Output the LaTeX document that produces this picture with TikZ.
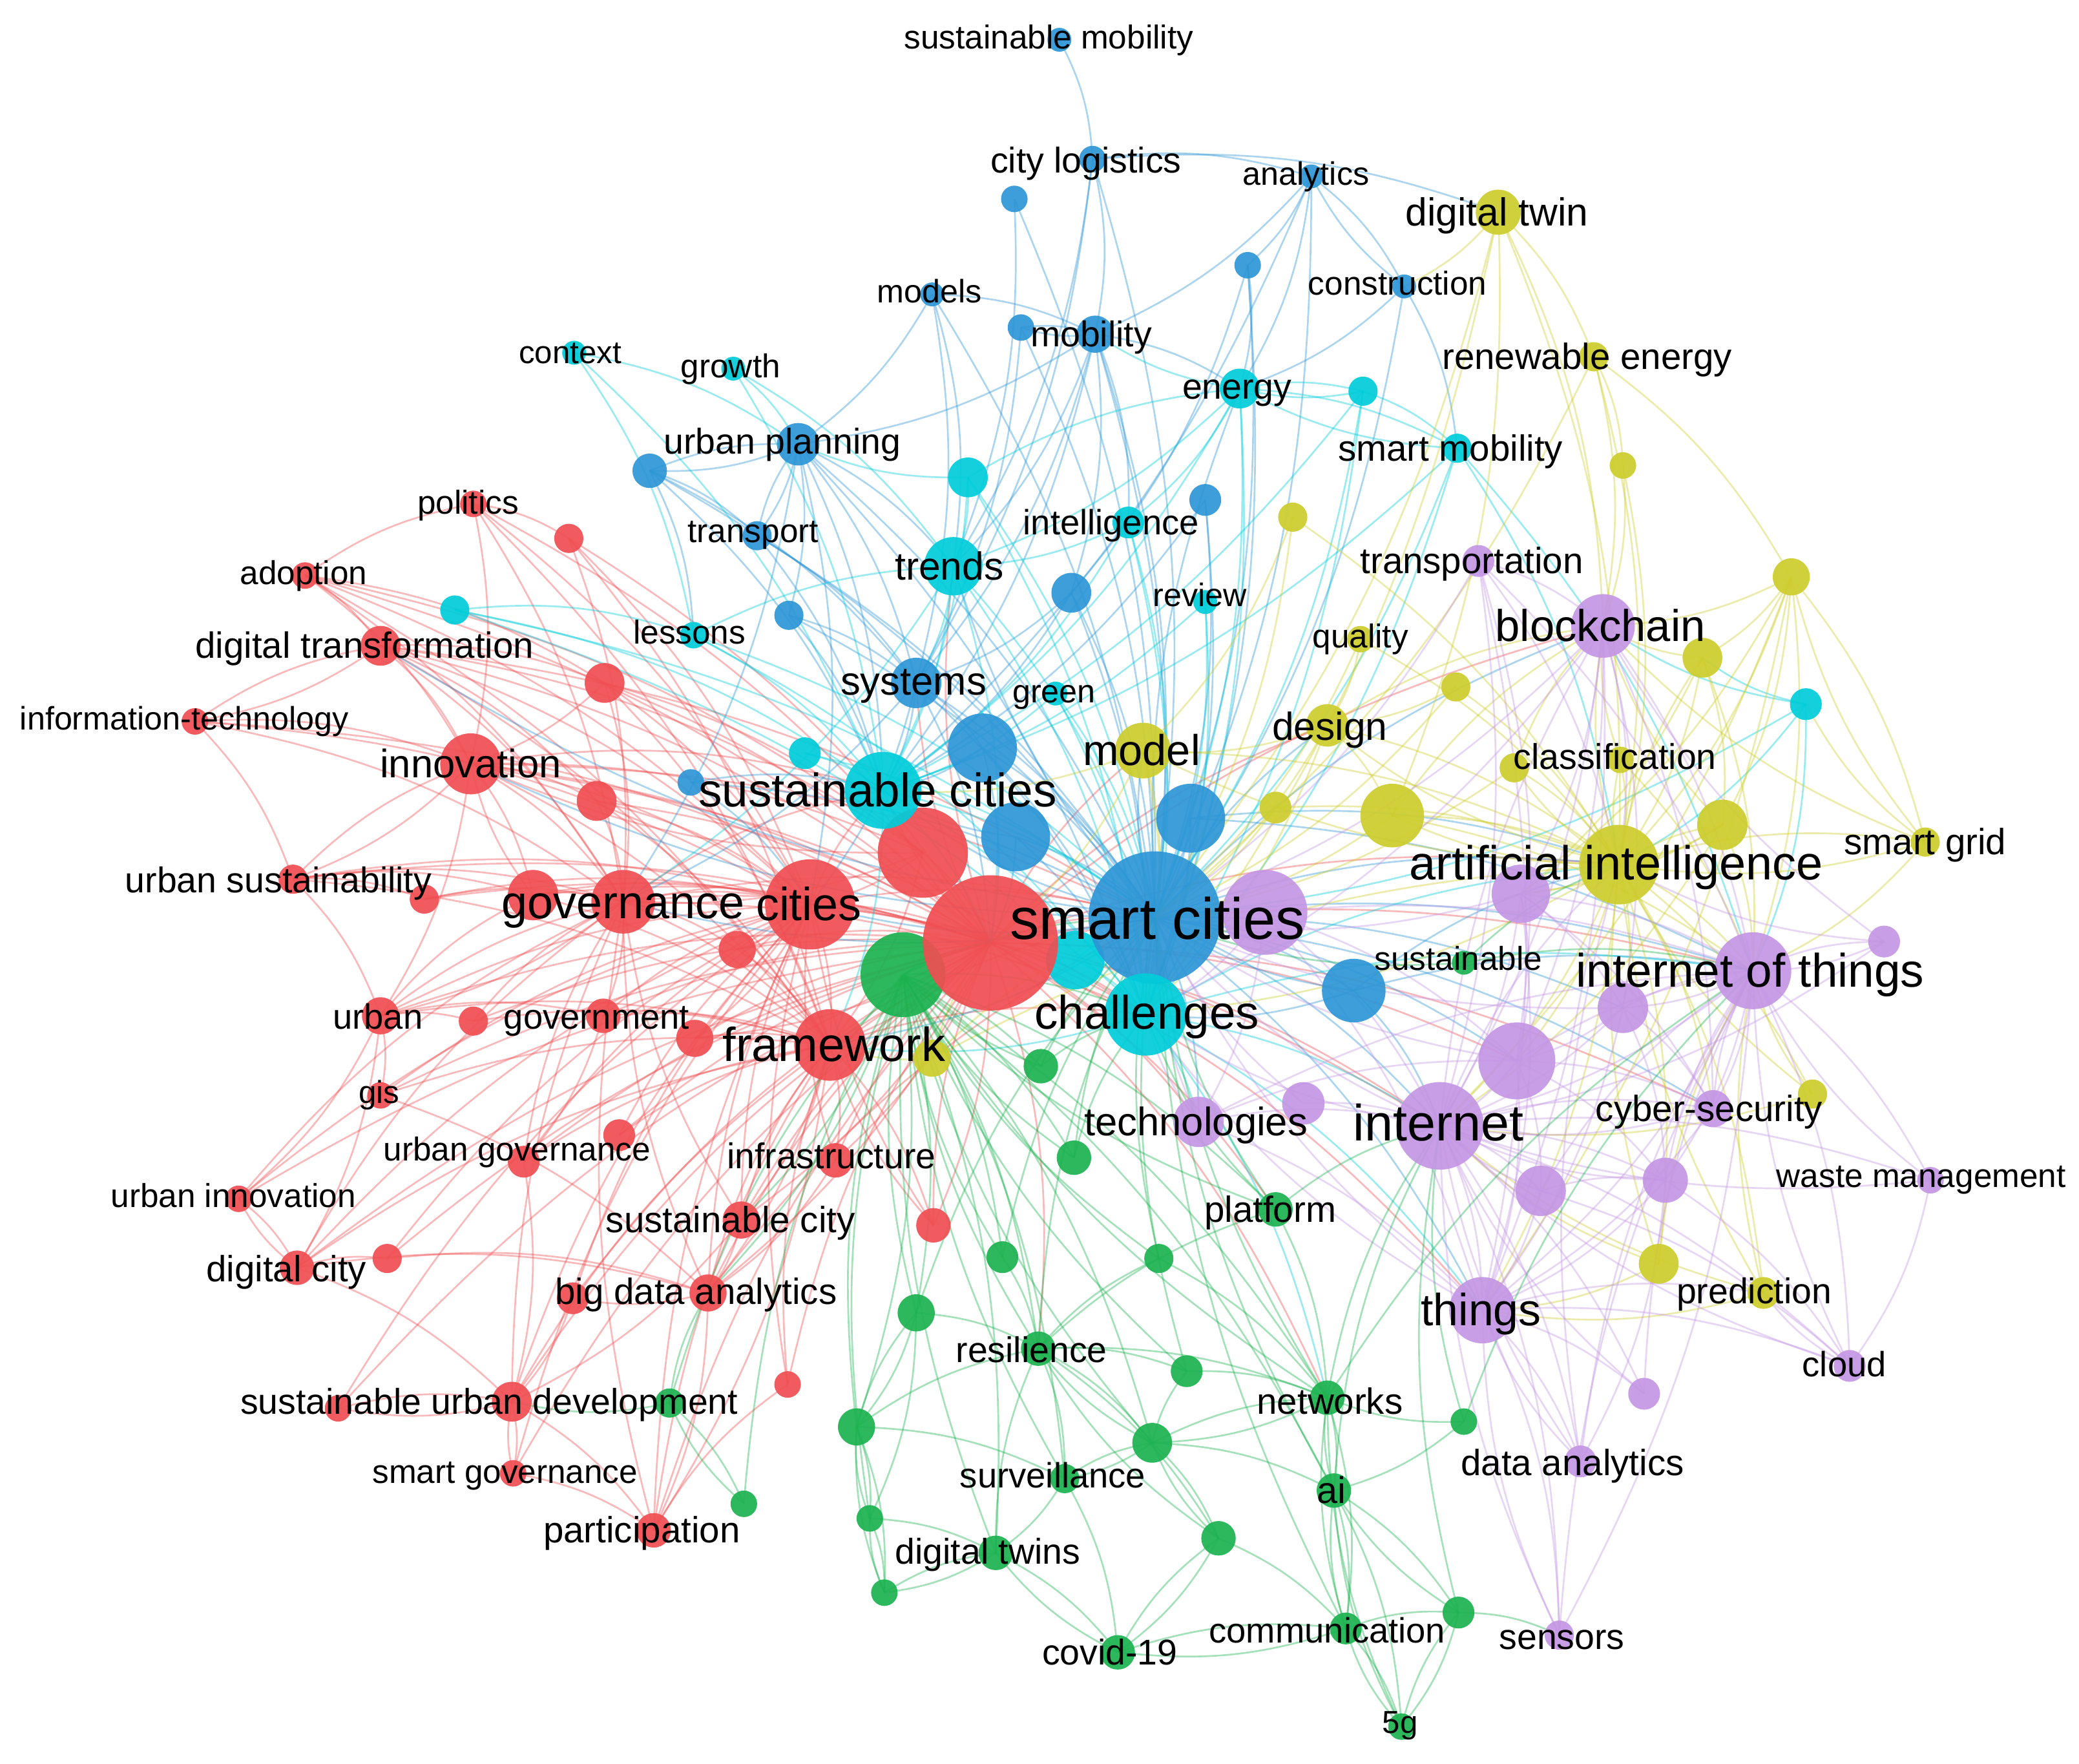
\documentclass[tikz,border=0pt]{standalone}
\usepackage{fontspec}
\setmainfont{Liberation Sans}
\pgfdeclarelayer{bg}
\pgfdeclarelayer{edges}
\pgfsetlayers{bg,edges,main}
\definecolor{cR}{RGB}{240,78,82}
\definecolor{cG}{RGB}{28,178,80}
\definecolor{cB}{RGB}{45,150,215}
\definecolor{cY}{RGB}{205,205,45}
\definecolor{cP}{RGB}{196,150,228}
\definecolor{cC}{RGB}{0,205,218}
\tikzset{
  kw/.style={circle,inner sep=0pt,draw=none,fill opacity=0.92},
  lab/.style={inner sep=0pt,text=black},
  edgebase/.style={line width=1.3pt,opacity=0.4},
  eR/.style={edgebase,draw=cR},
  eG/.style={edgebase,draw=cG},
  eB/.style={edgebase,draw=cB},
  eY/.style={edgebase,draw=cY},
  eP/.style={edgebase,draw=cP},
  eC/.style={edgebase,draw=cC},
}
\newcommand{\kwn}[5]{\node[kw,fill=#5,minimum size={2*#4pt}] (#1) at (#2,#3) {};}
\newcommand{\kwt}[5]{\node[lab,font={\fontsize{#4}{#4}\selectfont},yshift={-0.13*#4pt}] (t#1) at (#2,#3) {\strut #5};}
\begin{document}
\begin{tikzpicture}[x=1pt,y=-1pt]
\useasboundingbox (0,0) rectangle (1568,1330);
\begin{pgfonlayer}{bg}
\fill[white] (0,0) rectangle (1568,1330);
\end{pgfonlayer}
% ---- large nodes first
\kwn{c6}{811}{724}{22}{cC}
\kwn{g0}{681}{735}{32}{cG}
\kwn{scy}{747}{711}{51}{cR}
\kwn{sc}{871}{692}{50}{cB}
\kwn{r4}{696}{643}{34}{cR}
\kwn{cit}{611}{682}{34}{cR}
\kwn{p2}{954}{688}{32}{cP}
\kwn{susc}{666}{596}{29}{cC}
\kwn{chal}{864}{765}{31}{cC}
\kwn{inet}{1086}{849}{33}{cP}
\kwn{b10}{766}{631}{26}{cB}
\kwn{b8}{741}{564}{26}{cB}
\kwn{b11}{898}{617}{26}{cB}
\kwn{ai}{1221}{652}{30}{cY}
\kwn{iot}{1322}{732}{29}{cP}
\kwn{fw}{626}{788}{27}{cR}
\kwn{gov}{470}{680}{24}{cR}
\kwn{inn}{355}{576}{23}{cR}
\kwn{bc}{1209}{472}{24}{cP}
\kwn{thg}{1118}{988}{25}{cP}
\kwn{y8}{1050}{615}{24}{cY}
\kwn{b12}{1021}{747}{24}{cB}
\kwn{trn}{719}{427}{22}{cC}
\kwn{p5}{1144}{800}{29}{cP}
\kwn{mdl}{862}{566}{21}{cY}
\kwn{p1}{1147}{674}{22}{cP}
\kwn{sys}{691}{515}{19}{cB}
\kwn{tech}{904}{846}{19}{cP}
\kwn{r6}{402}{675}{19}{cR}
% ---- blue
\kwn{smob}{799}{30}{9}{cB}
\kwn{clog}{824}{120}{10}{cB}
\kwn{b1}{765}{150}{10}{cB}
\kwn{anl}{989}{133}{9}{cB}
\kwn{models}{703}{222}{9}{cB}
\kwn{b2}{941}{200}{10}{cB}
\kwn{cons}{1059}{216}{9}{cB}
\kwn{mob}{826}{252}{14}{cB}
\kwn{b3}{770}{247}{10}{cB}
\kwn{upl}{602}{335}{16}{cB}
\kwn{b4}{490}{355}{13}{cB}
\kwn{trp}{571}{404}{11}{cB}
\kwn{b5}{909}{377}{12}{cB}
\kwn{b6}{808}{447}{15}{cB}
\kwn{b7}{595}{464}{11}{cB}
\kwn{b9}{521}{590}{10}{cB}
% ---- cyan
\kwn{ctx}{433}{266}{9}{cC}
\kwn{grw}{553}{278}{9}{cC}
\kwn{en}{935}{293}{15}{cC}
\kwn{c1}{1028}{295}{11}{cC}
\kwn{smm}{1099}{338}{11}{cC}
\kwn{c2}{730}{360}{15}{cC}
\kwn{intl}{851}{394}{12}{cC}
\kwn{rev}{909}{454}{9}{cC}
\kwn{c3}{343}{460}{11}{cC}
\kwn{les}{523}{479}{10}{cC}
\kwn{grn}{796}{523}{9}{cC}
\kwn{c4}{1362}{531}{12}{cC}
\kwn{c5}{607}{568}{12}{cC}
% ---- yellow
\kwn{dtw}{1130}{160}{17}{cY}
\kwn{ren}{1202}{269}{11}{cY}
\kwn{y1}{1224}{351}{10}{cY}
\kwn{y2}{975}{390}{11}{cY}
\kwn{y3}{1351}{435}{14}{cY}
\kwn{qual}{1026}{482}{10}{cY}
\kwn{y4}{1284}{496}{15}{cY}
\kwn{y5}{1098}{518}{11}{cY}
\kwn{des}{1001}{547}{16}{cY}
\kwn{cls}{1222}{573}{10}{cY}
\kwn{y6}{1142}{579}{11}{cY}
\kwn{y7}{962}{609}{12}{cY}
\kwn{y9}{1299}{622}{19}{cY}
\kwn{sgr}{1452}{635}{11}{cY}
\kwn{y10}{703}{798}{14}{cY}
\kwn{y11}{1367}{825}{11}{cY}
\kwn{y12}{1251}{953}{15}{cY}
\kwn{pred}{1330}{975}{12}{cY}
% ---- purple
\kwn{trsp}{1115}{423}{12}{cP}
\kwn{p3}{1421}{710}{12}{cP}
\kwn{p4}{1224}{760}{19}{cP}
\kwn{p6}{983}{832}{16}{cP}
\kwn{cyb}{1292}{836}{14}{cP}
\kwn{p7}{1162}{898}{19}{cP}
\kwn{p8}{1256}{890}{17}{cP}
\kwn{wm}{1456}{890}{10}{cP}
\kwn{cld}{1395}{1030}{12}{cP}
\kwn{p9}{1240}{1051}{12}{cP}
\kwn{dan}{1192}{1102}{12}{cP}
\kwn{sen}{1176}{1233}{11}{cP}
% ---- red
\kwn{pol}{357}{380}{10}{cR}
\kwn{r1}{429}{406}{11}{cR}
\kwn{adop}{230}{434}{10}{cR}
\kwn{dtr}{287}{487}{15}{cR}
\kwn{r2}{456}{515}{15}{cR}
\kwn{itech}{147}{544}{10}{cR}
\kwn{r3}{450}{604}{15}{cR}
\kwn{usus}{221}{663}{11}{cR}
\kwn{r5}{320}{678}{11}{cR}
\kwn{r7}{556}{716}{14}{cR}
\kwn{urb}{287}{766}{14}{cR}
\kwn{r8}{357}{770}{11}{cR}
\kwn{govt}{455}{766}{13}{cR}
\kwn{r9}{524}{783}{14}{cR}
\kwn{gis}{287}{826}{10}{cR}
\kwn{ugov}{395}{876}{12}{cR}
\kwn{r10}{467}{856}{12}{cR}
\kwn{infra}{630}{875}{13}{cR}
\kwn{uinn}{180}{904}{10}{cR}
\kwn{suscy}{559}{920}{14}{cR}
\kwn{r11}{704}{924}{13}{cR}
\kwn{dcity}{224}{956}{13}{cR}
\kwn{r12}{292}{949}{11}{cR}
\kwn{bda}{534}{975}{14}{cR}
\kwn{r13}{432}{979}{12}{cR}
\kwn{r14}{594}{1044}{10}{cR}
\kwn{sud}{386}{1057}{15}{cR}
\kwn{r15}{255}{1062}{10}{cR}
\kwn{sgov}{387}{1111}{10}{cR}
\kwn{part}{493}{1154}{13}{cR}
% ---- green
\kwn{g1}{785}{804}{13}{cG}
\kwn{sust}{1104}{726}{9}{cG}
\kwn{g2}{810}{873}{13}{cG}
\kwn{plat}{962}{912}{13}{cG}
\kwn{g3}{756}{948}{12}{cG}
\kwn{g4}{874}{949}{11}{cG}
\kwn{g5}{691}{990}{14}{cG}
\kwn{res}{783}{1017}{13}{cG}
\kwn{g6}{895}{1034}{12}{cG}
\kwn{g7}{505}{1058}{11}{cG}
\kwn{net}{1001}{1054}{13}{cG}
\kwn{g8}{869}{1088}{15}{cG}
\kwn{g9}{646}{1076}{14}{cG}
\kwn{g10}{1104}{1072}{10}{cG}
\kwn{surv}{803}{1115}{11}{cG}
\kwn{aiG}{1006}{1124}{13}{cG}
\kwn{g11}{561}{1134}{10}{cG}
\kwn{g12}{656}{1145}{10}{cG}
\kwn{g13}{919}{1160}{13}{cG}
\kwn{dtws}{751}{1171}{13}{cG}
\kwn{g14}{667}{1201}{10}{cG}
\kwn{comm}{1015}{1228}{12}{cG}
\kwn{g15}{1100}{1216}{12}{cG}
\kwn{cov}{843}{1246}{13}{cG}
\kwn{fiveg}{1057}{1302}{10}{cG}
% ---- edges
\begin{pgfonlayer}{edges}
\foreach \a/\bs in {pol/{gov,cit,scy,inn,r1,fw},r1/{gov,scy,fw,cit},adop/{dtr,inn,gov,cit,scy,r2,pol,fw,r4},dtr/{itech,inn,gov,cit,scy,fw,r2,r3,r4,sc},r2/{inn,gov,scy,cit,r4,fw},itech/{dtr,inn,usus,cit,gov,scy},inn/{gov,cit,scy,fw,r3,r4,usus,urb,r6,sc,chal,susc},r3/{gov,scy,cit,fw},r4/{scy,cit,gov,fw,inn},usus/{gov,cit,scy,fw,urb,r5,inn,r6},r5/{gov,scy,cit},r6/{gov,cit,scy,fw,inn},gov/{cit,scy,fw,r7,govt,urb,sc,susc,chal},cit/{scy,fw,r7,r9,sc,susc,chal,inet},r7/{scy,fw},scy/{fw,r9,infra,suscy,bda,r11,sc,chal,susc,iot,inet,ai,bc,tech,thg,sys,trn,mdl,des,net,res,plat,p5,cyb},urb/{gis,uinn,dcity,scy,cit,fw,r8,gov,r6,govt},r8/{gov,scy,fw},govt/{scy,cit,fw,ugov},r9/{scy,fw},fw/{infra,suscy,bda,r11,part,sc,chal},gis/{scy,cit,fw,bda},ugov/{scy,cit,gov,fw,sud},r10/{scy,fw,cit},infra/{scy,cit,bda},uinn/{dcity,gov,cit,scy},suscy/{scy,cit,gov,bda,sud,fw},r11/{scy,fw,cit},dcity/{r12,scy,cit,gov,bda,sud,fw,uinn},r12/{bda,scy,cit},bda/{scy,cit,gov,r13,part,fw,sc},r13/{scy,cit,sud},r14/{scy,fw,cit},sud/{scy,cit,gov,r15,sgov,part,fw},r15/{sud,scy,cit},sgov/{sud,scy,part,cit},part/{scy,cit,gov,r14,fw}}{%
  \foreach \b in \bs {\draw[eR] (\a.center) to[bend left=12] (\b.center);}}
\foreach \a/\bs in {smob/{clog},clog/{mob,sc,sys,anl,dtw,trn},b1/{trn,sc},anl/{sc,mob,en,b2,cons,susc},models/{mob,sc,sys,upl,trn},b2/{sc,en,chal,b6},cons/{sc,anl,en,smm},mob/{sc,sys,trn,b3,en,upl,susc,chal,b6,intl},b3/{sc,sys,mob},upl/{sc,sys,susc,b4,trp,cit,gov,trn,b7,chal},b4/{upl,sc,susc,sys,trp,les},trp/{sc,sys,susc,upl},b5/{sc,chal,susc},b6/{sc,susc,chal,sys},b7/{sc,sys,susc},sys/{sc,susc,b8,chal,scy,gov,cit},b8/{sc,susc,chal,scy},b9/{sc,susc,cit},b10/{sc,chal,susc,scy},b11/{sc,chal,ai,iot},sc/{chal,susc,ai,iot,inet,fw,bc,tech,thg,des,mdl,b12,gov,cit,inn,dtr,trn,en,p5,cyb,p4},b12/{sc,chal,iot,inet,ai}}{%
  \foreach \b in \bs {\draw[eB] (\a.center) to[bend left=12] (\b.center);}}
\foreach \a/\bs in {ctx/{upl,les,susc},grw/{upl,susc,trn},en/{sc,susc,chal,smm,c1,trn,intl,mob},c1/{en,smm,sc,chal,susc},smm/{sc,chal,susc,ai,iot,en},c2/{trn,sc,susc,chal,en,upl},intl/{sc,chal,susc,trn},trn/{sc,susc,chal,sys,scy,gov},rev/{sc,chal,susc},c3/{les,susc,sc,chal},les/{susc,sc,chal,trn},grn/{sc,susc,chal},c4/{ai,bc,iot,y4,sc},c5/{susc,sc},susc/{chal,sc,scy,fw},c6/{sc,chal},chal/{inet,tech,iot,ai,thg,fw,net}}{%
  \foreach \b in \bs {\draw[eC] (\a.center) to[bend left=12] (\b.center);}}
\foreach \a/\bs in {dtw/{ai,bc,ren,sc,chal,cons,y8},ren/{ai,bc,y3,sc,y1},y1/{ai,bc},y2/{ai,sc,mdl},y3/{bc,ai,y4,iot,y9,sgr,inet,thg,p1},qual/{ai,sc,des},y4/{ai,bc,iot,p1,y9},y5/{ai,sc,des},des/{ai,sc,mdl,chal,bc,y8},mdl/{sc,ai,chal,susc,scy},cls/{ai,bc,iot},y6/{ai,bc,sc},y7/{sc,ai},y8/{ai,sc,bc,iot},y9/{ai,bc,iot,inet,p1},sgr/{ai,iot,bc,y3,c4},ai/{iot,bc,inet,chal,thg,pred,y12,p1,y9,y4,cls,y6,y8,sgr,des,mdl,y11,p5,p4,cyb},y10/{sc,scy,fw,ai},y11/{iot,ai,inet},y12/{ai,inet,thg,iot},pred/{ai,iot,inet,thg}}{%
  \foreach \b in \bs {\draw[eY] (\a.center) to[bend left=12] (\b.center);}}
\foreach \a/\bs in {trsp/{bc,iot,inet,sc,ai,p5,thg},bc/{iot,inet,sc,chal,p1,thg,ai,p5,p4,cyb},p1/{iot,inet,sc,thg,p5,p4,cyb},p2/{sc,inet,iot,chal,thg,p5,tech},iot/{inet,thg,cyb,p4,p3,wm,cld,sen,p8},p3/{iot,inet,bc,ai},p4/{iot,inet,sc,thg,p5,cyb,p8},p5/{inet,iot,sc,thg,cyb,p7,p8},tech/{inet,sc,chal,iot,thg,p5},p6/{inet,sc},inet/{thg,cyb,p7,p8,cld,dan,sen,p9,wm,sc,chal,ai,bc},cyb/{iot,inet,thg},p7/{inet,thg,iot,p8,cld},p8/{iot,inet,thg,cld,dan},wm/{iot,inet,cld},thg/{cld,dan,sen,p9,pred,sc,chal},cld/{inet,iot,pred},p9/{inet,iot},dan/{inet,iot,thg,ai},sen/{inet,iot,thg}}{%
  \foreach \b in \bs {\draw[eP] (\a.center) to[bend left=12] (\b.center);}}
\foreach \a/\bs in {g0/{sc,scy,fw,chal,g1,res,net,plat,suscy,bda,g2,g3,g5,g9,surv,dtws,aiG,g8},g1/{sc,chal,g0},sust/{sc,iot,ai},g2/{sc,g0,chal},plat/{sc,chal,inet,g0,net},g3/{g0,sc,res},g4/{sc,g0,net},g5/{g0,res,sc,g9,g12},res/{g0,sc,net,surv,g8,g13,plat,g4,g6},g6/{sc,g0,net},g7/{g0,sud,bda,g11},net/{sc,g0,aiG,comm,inet,iot,g8},g8/{g0,res,net,aiG,g13,surv,g6},g9/{g0,g5,res,surv,g12,g14},g10/{inet,iot,net,aiG},surv/{g0,g8,dtws,cov},aiG/{sc,net,comm,fiveg,inet,g15},g11/{g0,g7},g12/{g9,g14,dtws,g0},g13/{g8,cov,comm,res},dtws/{g0,g14,res,cov},g14/{g9,g12,dtws},comm/{fiveg,aiG,net,g15,sc,cov},g15/{fiveg,aiG,inet,sen},cov/{g13,comm,dtws},fiveg/{comm,aiG,g15,net}}{%
  \foreach \b in \bs {\draw[eG] (\a.center) to[bend left=12] (\b.center);}}
\end{pgfonlayer}
% ---- labels
\kwt{smob}{791}{28}{25}{sustainable mobility}
\kwt{clog}{819}{121}{27}{city logistics}
\kwt{anl}{985}{131}{24.5}{analytics}
\kwt{models}{701}{220}{24.5}{models}
\kwt{cons}{1054}{214}{25}{construction}
\kwt{mob}{823}{252}{27}{mobility}
\kwt{dtw}{1129}{160}{29.5}{digital twin}
\kwt{ctx}{430}{266}{24}{context}
\kwt{grw}{551}{276}{25}{growth}
\kwt{ren}{1197}{269}{27.5}{renewable energy}
\kwt{en}{933}{292}{27}{energy}
\kwt{upl}{590}{333}{27}{urban planning}
\kwt{smm}{1094}{338}{27.5}{smart mobility}
\kwt{pol}{353}{379}{25}{politics}
\kwt{trp}{568}{401}{25}{transport}
\kwt{intl}{838}{394}{26.5}{intelligence}
\kwt{adop}{229}{432}{25}{adoption}
\kwt{trn}{716}{427}{29.5}{trends}
\kwt{trsp}{1110}{423}{27.5}{transportation}
\kwt{rev}{905}{449}{24.5}{review}
\kwt{les}{520}{477}{25}{lessons}
\kwt{dtr}{275}{487}{27.5}{digital transformation}
\kwt{qual}{1026}{480}{25}{quality}
\kwt{bc}{1207}{472}{33.5}{blockchain}
\kwt{sys}{689}{514}{30}{systems}
\kwt{grn}{795}{522}{24.5}{green}
\kwt{itech}{139}{542}{24.5}{information-technology}
\kwt{des}{1003}{548}{29.5}{design}
\kwt{mdl}{861}{566}{32.5}{model}
\kwt{cls}{1218}{571}{27}{classification}
\kwt{inn}{355}{576}{30}{innovation}
\kwt{susc}{662}{596}{35.5}{sustainable cities}
\kwt{sgr}{1452}{635}{27.5}{smart grid}
\kwt{ai}{1219}{651}{36}{artificial intelligence}
\kwt{usus}{210}{664}{27}{urban sustainability}
\kwt{gov}{470}{681}{35}{governance}
\kwt{cit}{610}{682}{35}{cities}
\kwt{sc}{873}{693}{44}{smart cities}
\kwt{sust}{1100}{723}{25}{sustainable}
\kwt{iot}{1320}{732}{35.5}{internet of things}
\kwt{chal}{865}{764}{35.5}{challenges}
\kwt{urb}{285}{767}{26.5}{urban}
\kwt{govt}{450}{767}{26.5}{government}
\kwt{fw}{629}{788}{36}{framework}
\kwt{gis}{286}{824}{24}{gis}
\kwt{cyb}{1289}{836}{27.5}{cyber-security}
\kwt{tech}{902}{846}{30}{technologies}
\kwt{inet}{1085}{847}{38.5}{internet}
\kwt{ugov}{390}{867}{25}{urban governance}
\kwt{infra}{627}{872}{27}{infrastructure}
\kwt{wm}{1449}{887}{25}{waste management}
\kwt{uinn}{176}{902}{25}{urban innovation}
\kwt{plat}{958}{912}{27.5}{platform}
\kwt{suscy}{551}{920}{27.5}{sustainable city}
\kwt{dcity}{216}{957}{27.5}{digital city}
\kwt{bda}{525}{974}{27.5}{big data analytics}
\kwt{pred}{1323}{974}{27}{prediction}
\kwt{thg}{1117}{988}{34}{things}
\kwt{res}{778}{1018}{27}{resilience}
\kwt{cld}{1391}{1029}{26.5}{cloud}
\kwt{sud}{369}{1057}{27}{sustainable urban development}
\kwt{net}{1003}{1057}{27.5}{networks}
\kwt{dan}{1186}{1103}{27.5}{data analytics}
\kwt{sgov}{381}{1110}{25}{smart governance}
\kwt{surv}{794}{1113}{26.5}{surveillance}
\kwt{aiG}{1004}{1124}{28}{ai}
\kwt{part}{484}{1154}{27.5}{participation}
\kwt{dtws}{745}{1170}{27}{digital twins}
\kwt{comm}{1001}{1230}{26.5}{communication}
\kwt{sen}{1178}{1235}{27}{sensors}
\kwt{cov}{837}{1246}{27}{covid-19}
\kwt{fiveg}{1056}{1299}{24}{5g}
\end{tikzpicture}
\end{document}
